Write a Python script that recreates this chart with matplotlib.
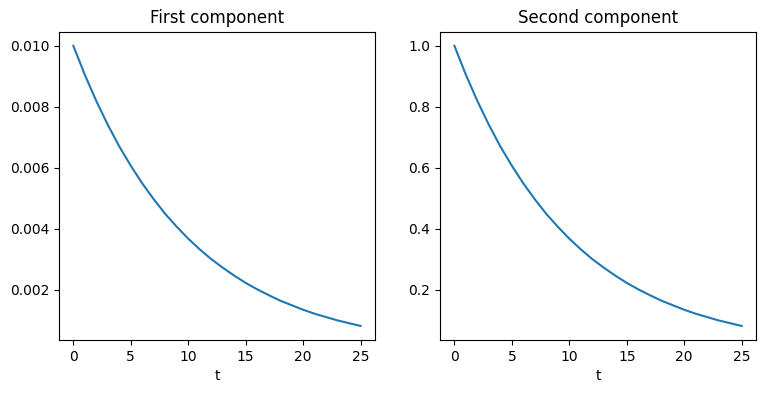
import matplotlib
matplotlib.use("Agg")
import matplotlib.pyplot as plt

# values at t = 0, 1, ..., 25
t = list(range(26))
second = [1.0, 0.905, 0.819, 0.741, 0.670, 0.607, 0.549, 0.497, 0.449, 0.407,
          0.368, 0.333, 0.301, 0.273, 0.247, 0.223, 0.202, 0.183, 0.165, 0.150,
          0.135, 0.122, 0.111, 0.100, 0.091, 0.082]
first = [0.0100, 0.00905, 0.00819, 0.00741, 0.00670, 0.00607, 0.00549, 0.00497,
         0.00449, 0.00407, 0.00368, 0.00333, 0.00301, 0.00273, 0.00247, 0.00223,
         0.00202, 0.00183, 0.00165, 0.00150, 0.00135, 0.00122, 0.00111, 0.00100,
         0.00091, 0.00082]
titles = ["First component", "Second component"]

fig, axes = plt.subplots(1, 2, figsize=(7.66, 3.93), dpi=100)
fig.subplots_adjust(left=0.077, right=0.987, top=0.919, bottom=0.135, wspace=0.206)

for ax, y, title in zip(axes, [first, second], titles):
    ax.plot(t, y)
    ax.set_title(title)
    ax.set_xlabel("t")
    ax.set_xticks([0, 5, 10, 15, 20, 25])

fig.savefig("out.png", dpi=100)
